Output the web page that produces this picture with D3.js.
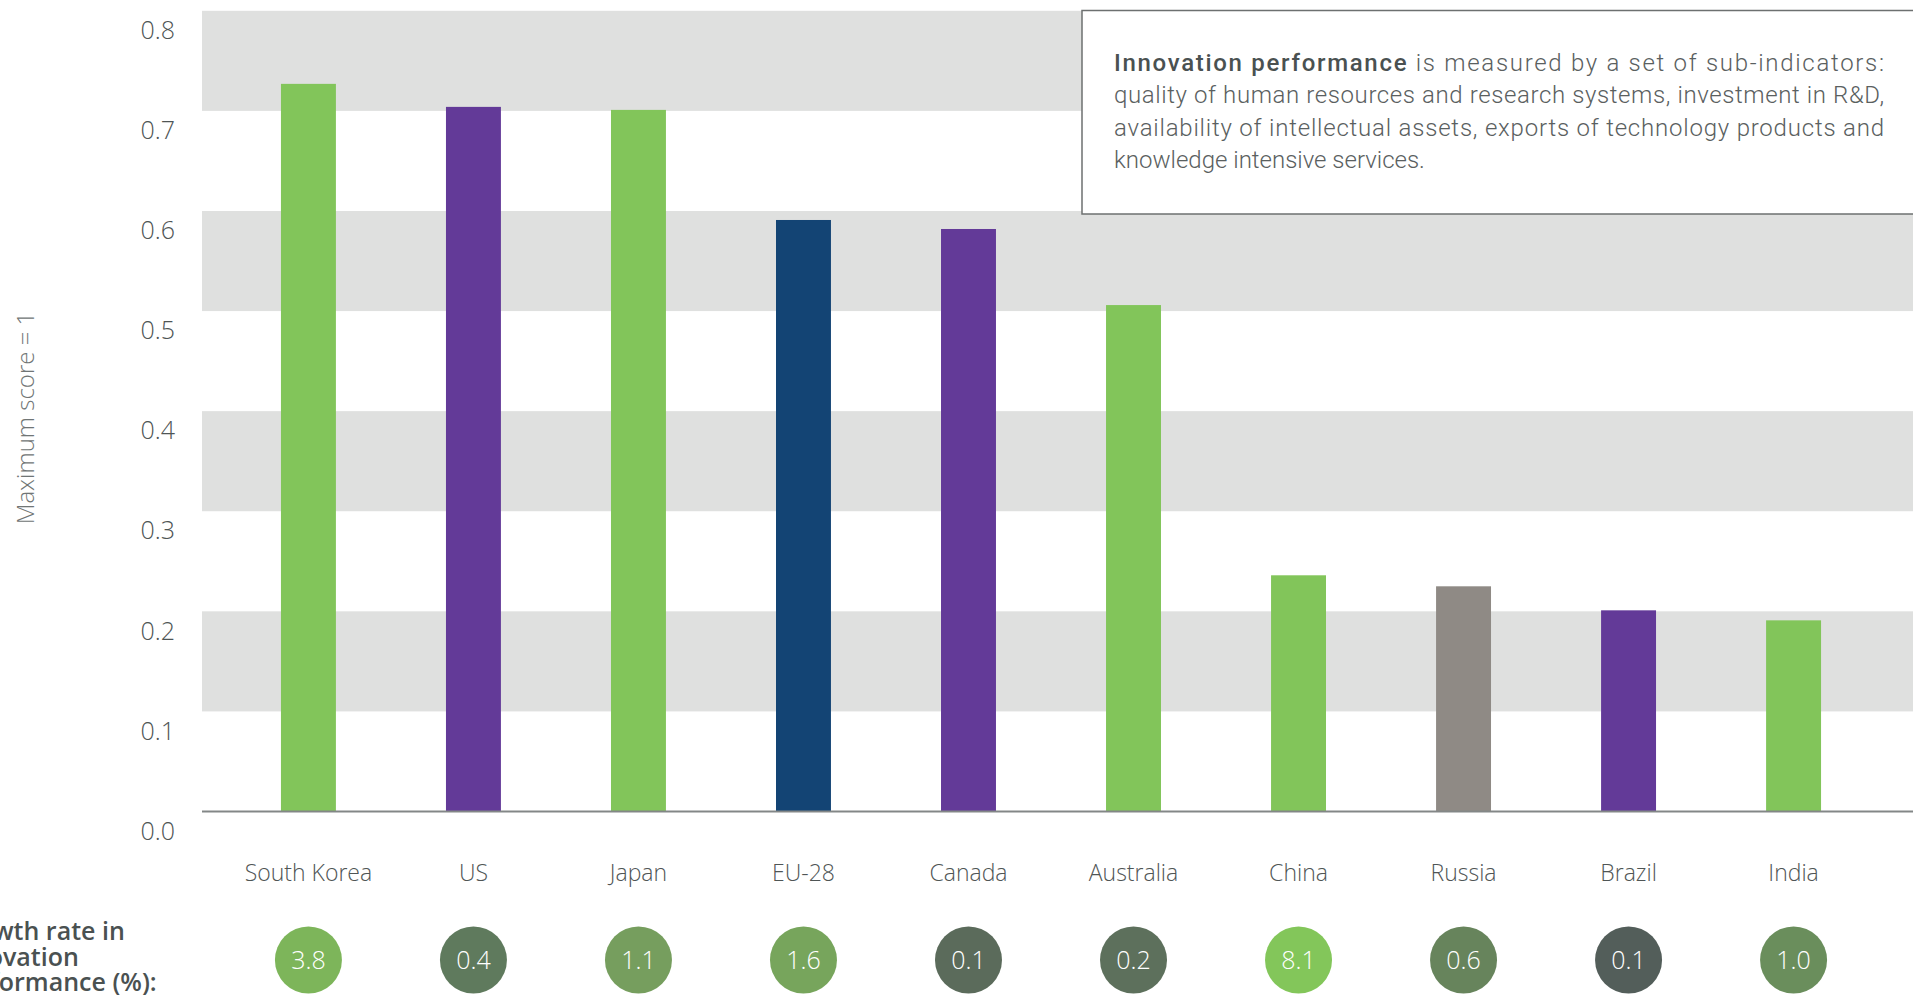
<!DOCTYPE html>
<html>
<head>
<meta charset="utf-8">
<script src="https://cdn.jsdelivr.net/npm/d3@7"></script>
<style>
  body { margin: 0; background: #fff; }
  svg { display: block; font-family: "Open Sans", sans-serif; }
</style>
</head>
<body>
<svg class="chart"></svg>
<script>
// data
const countries = ['South Korea', 'US', 'Japan', 'EU-28', 'Canada', 'Australia', 'China', 'Russia', 'Brazil', 'India'];
const scores = [0.727, 0.704, 0.701, 0.591, 0.582, 0.506, 0.236, 0.225, 0.201, 0.191];
const barColors = ['#82c55a', '#633a98', '#82c55a', '#134474', '#633a98', '#82c55a', '#82c55a', '#8f8a85', '#633a98', '#82c55a'];
const growth = ['3.8', '0.4', '1.1', '1.6', '0.1', '0.2', '8.1', '0.6', '0.1', '1.0'];
const growthColors = ['#7db55a', '#5f7a5d', '#769e5e', '#77a55c', '#5b6b5b', '#5d705c', '#83c65a', '#67845c', '#535e5a', '#6a8e5c'];
const yTicks = [0, 0.1, 0.2, 0.3, 0.4, 0.5, 0.6, 0.7, 0.8];
const bandPairs = [[0.1, 0.2], [0.3, 0.4], [0.5, 0.6], [0.7, 0.8]];
const noteLines = [
  'quality of human resources and research systems, investment in R&D,',
  'availability of intellectual assets, exports of technology products and',
  'knowledge intensive services.'
];

const width = 1913;
const height = 995;
const svg = d3.select('.chart').attr('width', width).attr('height', height);

const plotLeft = 202;
const y = d3.scaleLinear().domain([0, 0.8]).range([811.5, 10.8]);
const x = d3.scaleBand().domain(countries).range([226, 1876]).paddingInner(0.667).paddingOuter(0.333);

// grey bands
svg.append('g').selectAll('rect').data(bandPairs).join('rect')
  .attr('x', plotLeft)
  .attr('width', width - plotLeft)
  .attr('y', d => y(d[1]))
  .attr('height', d => y(d[0]) - y(d[1]))
  .attr('fill', '#dfe0df');

// y tick labels (sit a bit below their line)
svg.append('g').selectAll('text').data(yTicks).join('text')
  .attr('x', 175)
  .attr('y', d => y(d) + 19.5)
  .attr('dy', '0.35em')
  .attr('text-anchor', 'end')
  .attr('font-size', 25)
  .attr('font-weight', 300)
  .attr('fill', '#4f5555')
  .text(d => d.toFixed(1));

// y title
svg.append('text')
  .attr('transform', 'translate(26,418) rotate(-90)')
  .attr('text-anchor', 'middle')
  .attr('dy', '0.35em')
  .attr('font-size', 24)
  .attr('font-weight', 300)
  .attr('fill', '#707575')
  .text('Maximum score = 1');

// bars
svg.append('g').selectAll('rect').data(countries).join('rect')
  .attr('x', d => x(d))
  .attr('width', x.bandwidth())
  .attr('y', (d, i) => y(scores[i]))
  .attr('height', (d, i) => y(0) - y(scores[i]))
  .attr('fill', (d, i) => barColors[i]);

// baseline
svg.append('line')
  .attr('x1', plotLeft).attr('x2', width)
  .attr('y1', y(0)).attr('y2', y(0))
  .attr('stroke', '#838787').attr('stroke-width', 2);

// category labels
svg.append('g').selectAll('text').data(countries).join('text')
  .attr('x', d => x(d) + x.bandwidth() / 2)
  .attr('y', 873)
  .attr('dy', '0.35em')
  .attr('text-anchor', 'middle')
  .attr('font-size', 23)
  .attr('font-weight', 300)
  .attr('fill', '#4f5555')
  .text(d => d);

// growth circles
const circ = svg.append('g').selectAll('g').data(countries).join('g')
  .attr('transform', d => `translate(${x(d) + x.bandwidth() / 2},960)`);
circ.append('circle').attr('r', 33.5).attr('fill', (d, i) => growthColors[i]);
circ.append('text')
  .attr('text-anchor', 'middle')
  .attr('dy', '0.35em')
  .attr('font-size', 25)
  .attr('font-weight', 300)
  .attr('fill', '#fff')
  .text((d, i) => growth[i]);

// growth row label, cut off at the left edge as in the source
const gl = svg.append('text')
  .attr('font-size', 25)
  .attr('font-weight', 600)
  .attr('fill', '#4a5151');
['Growth rate in', 'innovation', 'performance (%):'].forEach((t, i) => {
  gl.append('tspan').attr('x', -51).attr('y', 940 + i * 25.5).text(t);
});

// note box
svg.append('rect')
  .attr('x', 1082).attr('y', 10.5)
  .attr('width', 860).attr('height', 203.5)
  .attr('fill', '#fff')
  .attr('stroke', '#6d7070').attr('stroke-width', 1.5);

const note = svg.append('g')
  .attr('font-family', 'Roboto, sans-serif')
  .attr('font-size', 24)
  .attr('font-weight', 300)
  .attr('fill', '#5a6060');

const first = note.append('text')
  .attr('x', 1114).attr('y', 71)
  .attr('textLength', 770).attr('lengthAdjust', 'spacing');
first.append('tspan').attr('font-weight', 500).attr('fill', '#4a5151').text('Innovation performance');
first.append('tspan').text(' is measured by a set of sub-indicators:');

note.selectAll('text.ln').data(noteLines).join('text')
  .attr('class', 'ln')
  .attr('x', 1114)
  .attr('y', (d, i) => 103 + i * 32.5)
  .attr('textLength', (d, i) => i < 2 ? 770 : null)
  .attr('lengthAdjust', 'spacing')
  .text(d => d);
</script>
</body>
</html>
